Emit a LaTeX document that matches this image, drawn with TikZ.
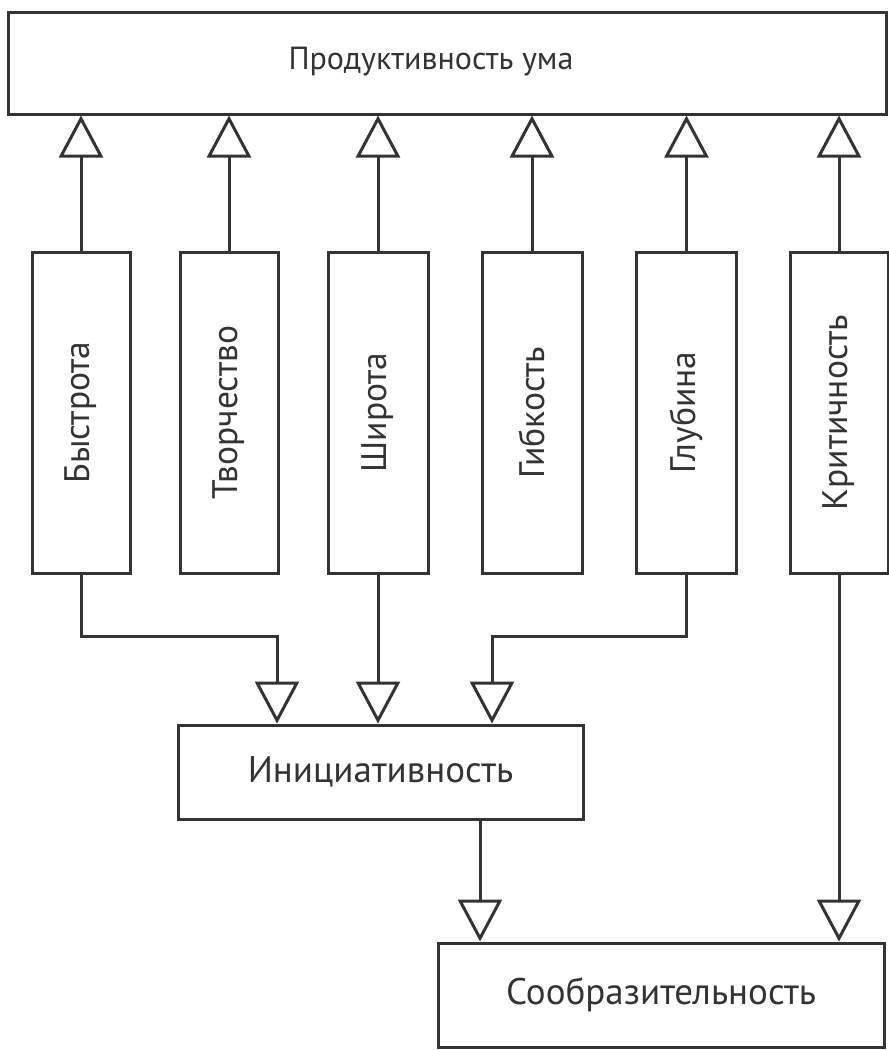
\documentclass[tikz,border=0pt]{standalone}
\usepackage{fontspec}
\setmainfont{PT Sans}
\usetikzlibrary{arrows.meta}
\definecolor{ink}{rgb}{0.2,0.2,0.2}
\begin{document}
\begin{tikzpicture}[x=1pt,y=-1pt,
  box/.style={draw=ink,line width=3pt,text=ink,inner sep=0pt,font=\fontsize{37}{44}\selectfont},
  vbox/.style={box,minimum width=98pt,minimum height=321pt},
  vlabel/.style={rotate=90,text=ink,inner sep=0pt,font=\fontsize{35.5}{42}\selectfont},
  conn/.style={draw=ink,line width=3pt,-{Triangle[open,length=42pt,width=44pt,line width=3pt]}}]
\useasboundingbox (0,0) rectangle (889,1050);
\node[box,minimum width=878pt,minimum height=102pt] (top) at (447,63) {};
\node[text=ink,inner sep=0pt,font=\fontsize{32}{38}\selectfont] (toplabel) at (431,62) {Продуктивность ума};
\node[vbox] (b1) at (81,412.5) {};
\node[vbox] (b2) at (229,412.5) {};
\node[vbox,minimum width=100pt] (b3) at (378,412.5) {};
\node[vbox,minimum width=100pt] (b4) at (532,412.5) {};
\node[vbox,minimum width=100pt] (b5) at (686.5,412.5) {};
\node[vbox] (b6) at (839,412.5) {};
\node[vlabel] (l1) at (b1.center) {Быстрота};
\node[vlabel] (l2) at (b2.center) {Творчество};
\node[vlabel] (l3) at (b3.center) {Широта};
\node[vlabel] (l4) at (b4.center) {Гибкость};
\node[vlabel] (l5) at (b5.center) {Глубина};
\node[vlabel] (l6) at (b6.center) {Критичность};
\node[box,minimum width=405pt,minimum height=94pt] (ini) at (380.5,772) {Инициативность};
\node[box,minimum width=446pt,minimum height=104pt] (sob) at (661,995) {Сообразительность};
\foreach \b in {b1,b2,b3,b4,b5,b6}{
  \draw[conn] (\b.north) -- (\b.north |- top.south);
}
\coordinate (j1) at (277,636);
\coordinate (j2) at (492,636);
\draw[conn] (b1.south) |- (j1) -- (j1 |- ini.north);
\draw[conn] (b3.south) -- (b3.south |- ini.north);
\draw[conn] (b5.south) |- (j2) -- (j2 |- ini.north);
\coordinate (j3) at (480,0);
\draw[conn] (j3 |- ini.south) -- (j3 |- sob.north);
\draw[conn] (b6.south) -- (b6.south |- sob.north);
\end{tikzpicture}
\end{document}
